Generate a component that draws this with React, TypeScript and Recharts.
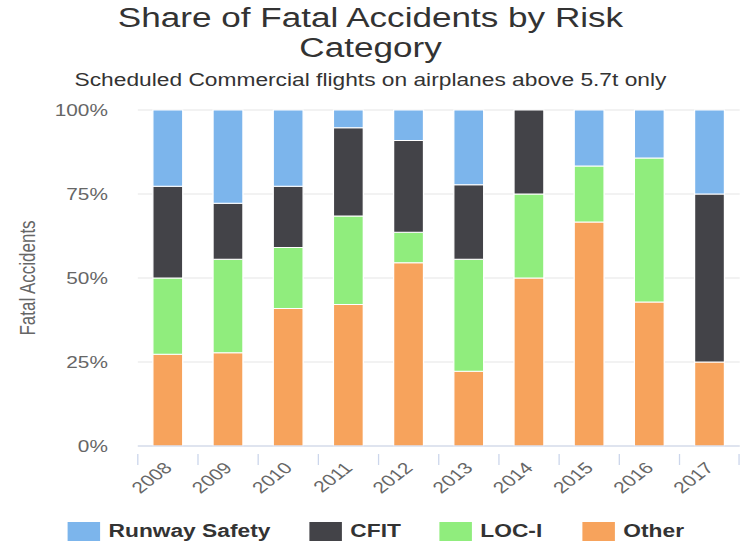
import { BarChart, Bar, XAxis, YAxis, CartesianGrid } from "recharts"

const years = ["2008", "2009", "2010", "2011", "2012", "2013", "2014", "2015", "2016", "2017"]
const other = [6, 5, 9, 8, 6, 2, 2, 4, 3, 1]
const locI = [5, 5, 4, 5, 1, 3, 1, 1, 3, 0]
const cfit = [6, 3, 4, 5, 3, 2, 1, 0, 0, 2]
const runway = [5, 5, 5, 1, 1, 2, 0, 1, 1, 1]
const yTicks = [0, 0.25, 0.5, 0.75, 1]

const series = [
  { key: "other", name: "Other", color: "#f7a35c" },
  { key: "locI", name: "LOC-I", color: "#90ed7d" },
  { key: "cfit", name: "CFIT", color: "#434348" },
  { key: "runway", name: "Runway Safety", color: "#7cb5ec" },
]

const data = years.map((year, i) => ({
  year,
  other: other[i],
  locI: locI[i],
  cfit: cfit[i],
  runway: runway[i],
}))

// the reference is stretched sideways, so draw narrow and scale the whole thing
const stretch = 1.3
const innerW = 570
const font = "'Liberation Sans', Arial, sans-serif"
const band = 463 / years.length

function YearTick(props: any) {
  const { x, y, payload, index } = props
  const last = index === years.length - 1
  const tx = x + 4
  const ty = y + 15
  return (
    <g>
      <line x1={x - band / 2} y1={y} x2={x - band / 2} y2={y + 11} stroke="#ccd6eb" />
      {last && <line x1={x + band / 2 - 0.5} y1={y} x2={x + band / 2 - 0.5} y2={y + 11} stroke="#ccd6eb" />}
      <text
        x={tx}
        y={ty}
        textAnchor="end"
        transform={`rotate(-45, ${tx}, ${ty})`}
        fill="#666"
        fontSize={16}
        fontFamily={font}
      >
        {payload.value}
      </text>
    </g>
  )
}

const legendItems = [
  { name: "Runway Safety", color: "#7cb5ec", left: 52 },
  { name: "CFIT", color: "#434348", left: 238 },
  { name: "LOC-I", color: "#90ed7d", left: 338 },
  { name: "Other", color: "#f7a35c", left: 448 },
]

export default function App() {
  return (
    <div style={{ position: "absolute", left: 0, top: 0, width: 741, height: 542, background: "#fff", overflow: "hidden" }}>
      <div
        style={{
          position: "absolute",
          left: 0,
          top: 0,
          width: innerW,
          height: 542,
          fontFamily: font,
          transform: `scaleX(${stretch})`,
          transformOrigin: "0 0",
        }}
      >
        <div style={{ position: "absolute", top: 3, left: 0, width: innerW, textAlign: "center", color: "#333", fontSize: 27, lineHeight: "30px" }}>
          Share of Fatal Accidents by Risk
          <br />
          Category
        </div>
        <div style={{ position: "absolute", top: 70, left: 0, width: innerW, textAlign: "center", color: "#333", fontSize: 17.5 }}>
          Scheduled Commercial flights on airplanes above 5.7t only
        </div>
        <BarChart
          width={innerW}
          height={542}
          data={data}
          stackOffset="expand"
          barCategoryGap="25%"
          margin={{ top: 110, right: 1, bottom: 0, left: 0 }}
        >
          <CartesianGrid vertical={false} stroke="#e6e6e6" />
          <XAxis
            dataKey="year"
            height={96}
            axisLine={{ stroke: "#ccd6eb" }}
            tickLine={false}
            tick={<YearTick />}
            interval={0}
          />
          <YAxis
            width={106}
            domain={[0, 1]}
            ticks={yTicks}
            tickFormatter={(v: number) => `${Math.round(v * 100)}%`}
            axisLine={false}
            tickLine={false}
            tickSize={0}
            tickMargin={23}
            tick={{ fill: "#666", fontSize: 16, fontFamily: font }}
            label={{
              value: "Fatal Accidents",
              angle: -90,
              position: "insideLeft",
              offset: 21,
              style: { fill: "#666", fontSize: 17, fontFamily: font, textAnchor: "middle" },
            }}
          />
          {series.map((s) => (
            <Bar
              key={s.key}
              dataKey={s.key}
              name={s.name}
              stackId="a"
              fill={s.color}
              stroke="#fff"
              strokeWidth={1}
              isAnimationActive={false}
            />
          ))}
        </BarChart>
        {legendItems.map((item) => (
          <div key={item.name} style={{ position: "absolute", left: item.left, top: 521, display: "flex", alignItems: "center" }}>
            <div style={{ width: 24.5, height: 19, background: item.color, marginRight: 7 }} />
            <span style={{ fontSize: 17.5, fontWeight: "bold", color: "#333" }}>{item.name}</span>
          </div>
        ))}
      </div>
    </div>
  )
}
